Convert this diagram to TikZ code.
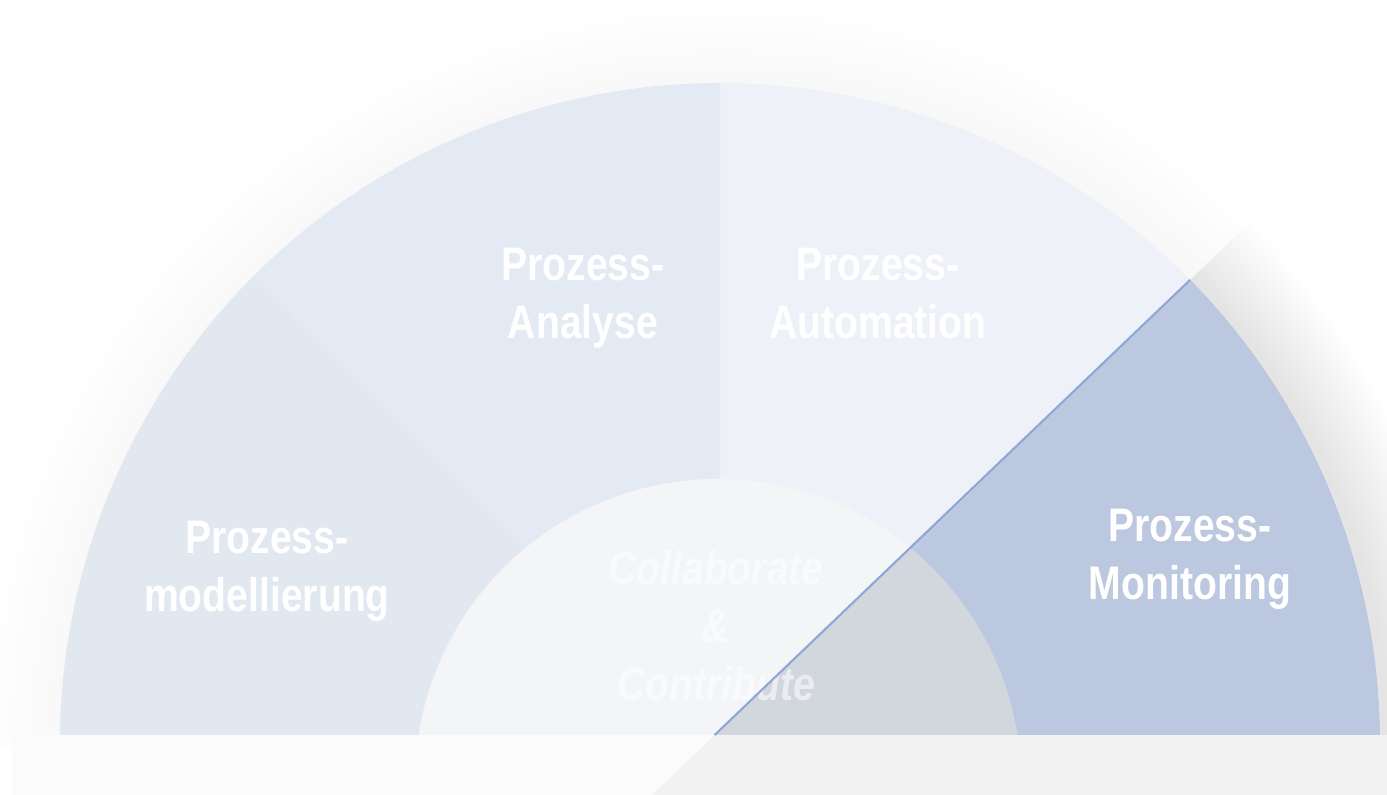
\documentclass[tikz,border=0pt]{standalone}
\usepackage{fontspec}
\newfontfamily\phasefont[FakeStretch=0.83]{Liberation Sans}
\definecolor{monitorblue}{HTML}{BCC8E0}
\definecolor{analyseblue}{HTML}{90A9D2}
\definecolor{modelblue}{HTML}{88A1C5}
\definecolor{hubgray}{HTML}{D2D6DD}
\definecolor{floorgray}{HTML}{F2F2F2}
\definecolor{edgeblue}{HTML}{8FA7D6}
\tikzstyle{phase}=[align=center,text=white,font=\phasefont\fontsize{13.4}{16.5}\selectfont\bfseries]
\tikzstyle{hub}=[align=center,text=white,text opacity=0.55,font=\phasefont\fontsize{13.4}{16.5}\selectfont\bfseries\itshape]
\tikzstyle{halo}=[black,opacity=0.004]

\begin{document}
\begin{tikzpicture}[x=0.01cm,y=0.01cm]
    \useasboundingbox (0,0) rectangle (1387,795);
    \fill[white] (0,0) rectangle (1387,795);
    \coordinate (c) at (720,52);
    \coordinate (s) at (726,49);

    % soft shadow round the arc
    \foreach \w in {6,12,...,162}
    \draw[halo,line width=\w*0.01cm] (s) ++(0:660) arc[start angle=0,end angle=180,radius=660];

    % the four phases
    \foreach \a/\b/\col in {0/45/monitorblue,45/90/monitorblue,90/135/analyseblue,135/180/modelblue}
    \fill[\col] (c) -- ++(\a:660) arc[start angle=\a,end angle=\b,radius=660] -- cycle;
    \fill[hubgray] (718,13) circle[radius=303];
    \fill[floorgray] (12,0) rectangle (1387,60);

    \node[phase] (modellierung) at (267,224) {Prozess-\\modellierung};
    \node[phase] (analyse) at (583,497) {Prozess-\\Analyse};
    \node[phase] (automation) at (878,501) {Prozess-\\Automation};
    \node[phase] (monitoring) at (1190,236) {Prozess-\\Monitoring};
    \node[hub] (collab) at (716,169) {Collaborate\\\&\\Contribute};

    % white sheet over the left part
    \fill[white,opacity=0.756] (0,0) -- (652,0) -- (1387,704) -- (1387,795) -- (0,795) -- cycle;
    \draw[edgeblue,line width=0.6pt] (714.7,60) -- (1190,515);
\end{tikzpicture}
\end{document}
